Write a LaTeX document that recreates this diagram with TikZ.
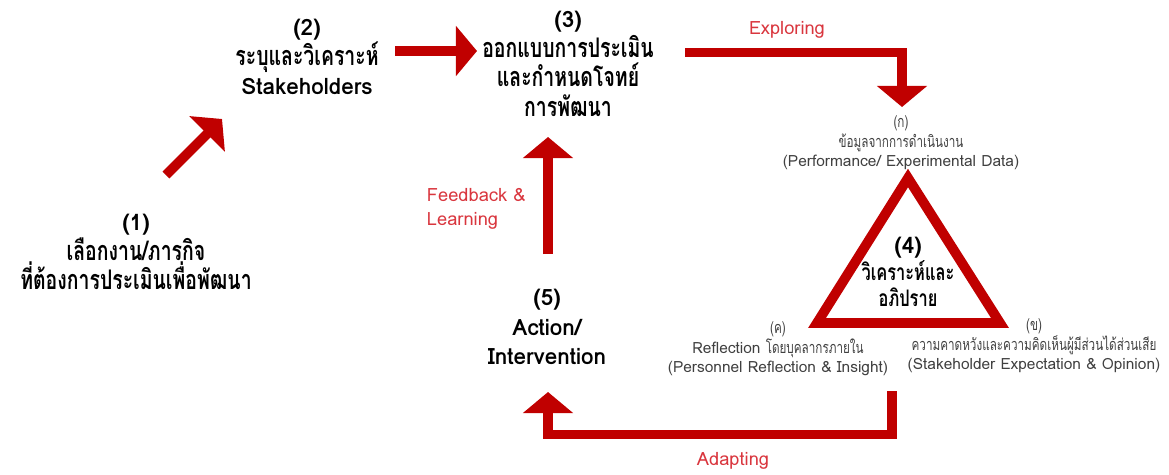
\documentclass[tikz,border=0pt]{standalone}
\usepackage{fontspec}
\setmainfont[Script=Thai]{Loma}
\newfontfamily\thaibold[Script=Thai,Scale=1.2,FakeStretch=0.72]{Loma}
\newfontfamily\thainote[Script=Thai,Scale=1.05,FakeStretch=0.72]{Loma}
\newcommand\thb[1]{{\thaibold #1}}
\newcommand\thn[1]{{\thainote #1}}
\usetikzlibrary{arrows.meta}
\definecolor{arrowred}{HTML}{C00000}
\definecolor{labelred}{HTML}{D9363E}
\definecolor{notegray}{HTML}{404040}

\begin{document}
\begin{tikzpicture}[x=0.025cm, y=-0.025cm,
  steplabel/.style={font=\bfseries\fontsize{16}{21}\selectfont, align=center, text=black},
  note/.style={font=\fontsize{11}{14}\selectfont, align=center, text=notegray},
  flowlabel/.style={text=labelred, font=\fontsize{13}{17}\selectfont},
  blockarrow/.style={draw=arrowred, line width=7pt, line join=miter,
    -{Triangle[width=35pt,length=15pt]}}]
\useasboundingbox (0,0) rectangle (1169,474);

% Steps of the cycle
\node[steplabel] (s1) at (136,252) {(1)\\\thb{เลือกงาน/ภารกิจ}\\\thb{ที่ต้องการประเมินเพื่อพัฒนา}};
\node[steplabel] (s2) at (307,57) {(2)\\\thb{ระบุและวิเคราะห์}\\Stakeholders};
\node[steplabel] (s3) at (568,64) {(3)\\\thb{ออกแบบการประเมิน}\\\thb{และกำหนดโจทย์}\\\thb{การพัฒนา}};
\node[steplabel, font=\bfseries\fontsize{16}{19}\selectfont] (s4) at (908,272)
  {(4)\\{\fontsize{13.5}{19}\selectfont\thb{วิเคราะห์และ}}\\{\fontsize{13.5}{19}\selectfont\thb{อภิปราย}}};
\node[steplabel] (s5) at (547,327) {(5)\\Action/\\Intervention};

% Triangle round step 4
\draw[arrowred, line width=7pt, line join=miter] (908,178) -- (1000,323) -- (817,323) -- cycle;

% Data sources
\node[note] (ka) at (901,143) {\thn{(ก)}\\\thn{ข้อมูลจากการดำเนินงาน}\\(Performance/ Experimental Data)};
\node[note] (kho) at (1034,346) {\thn{(ข)}\\\thn{ความคาดหวังและความคิดเห็นผู้มีส่วนได้ส่วนเสีย}\\(Stakeholder Expectation \& Opinion)};
\node[note] (kho2) at (778,349) {\thn{(ค)}\\Reflection \thn{โดยบุคลากรภายใน}\\(Personnel Reflection \& Insight)};

% Arrow end points
\coordinate (a1) at (166,175);
\coordinate (a2) at (222,119);
\coordinate (b1) at (395,51);
\coordinate (b2) at (477,51);
\coordinate (c1) at (685,52.5);
\coordinate (c2) at (902,52.5);
\coordinate (c3) at (902,107);
\coordinate (d1) at (892,391);
\coordinate (d2) at (892,434.5);
\coordinate (d3) at (548,434.5);
\coordinate (d4) at (548,392);
\coordinate (e1) at (548,254);
\coordinate (e2) at (548,137);

\draw[blockarrow] (a1) -- (a2);
\draw[blockarrow] (b1) -- (b2);
\draw[blockarrow] (c1) -- (c2) -- (c3);
\draw[blockarrow] (d1) -- (d2) -- (d3) -- (d4);
\draw[blockarrow] (e1) -- (e2);

% Labels on the loop
\node[flowlabel] (explore) at (787,30) {Exploring};
\node[flowlabel] (adapt) at (733,461) {Adapting};
\node[flowlabel, align=left, anchor=west] (feedback) at (422,209) {Feedback \&\\Learning};
\end{tikzpicture}
\end{document}
